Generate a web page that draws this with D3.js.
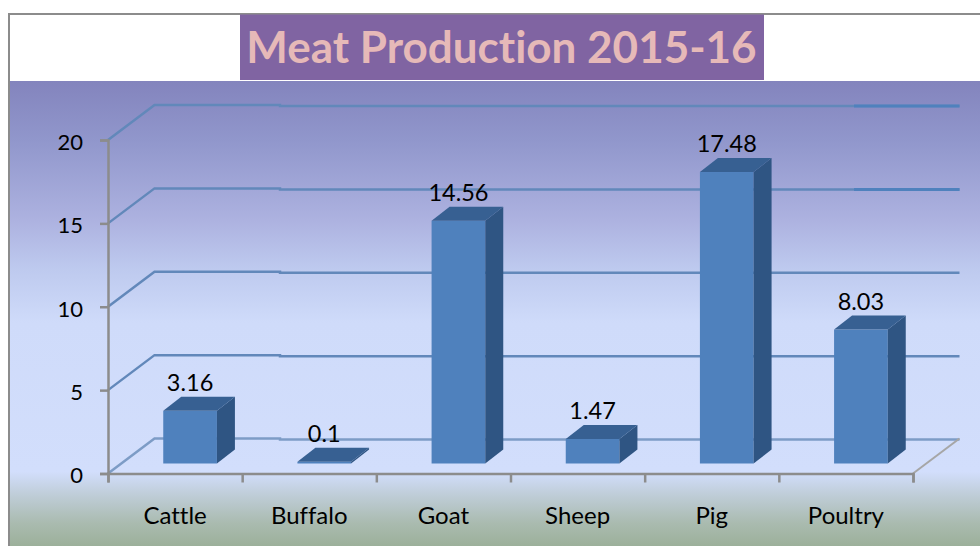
<!DOCTYPE html>
<html lang="en">
<head>
    <meta charset="UTF-8">
    <title>Meat Production 2015-16</title>
    <style>
        html, body { margin: 0; padding: 0; background: #fff; overflow: hidden; }
        svg { display: block; }
        text { font-family: Lato, "Open Sans", sans-serif; fill: #000; font-variant-ligatures: none; }
    </style>
</head>
<body>
    <svg id="SVG"></svg>
    <script src="https://d3js.org/d3.v7.min.js"></script>
    <script>
        // chart data
        var categories = ["Cattle", "Buffalo", "Goat", "Sheep", "Pig", "Poultry"];
        var values = [3.16, 0.1, 14.56, 1.47, 17.48, 8.03];
        var labels = ["3.16", "0.1", "14.56", "1.47", "17.48", "8.03"];
        var yTicks = [0, 5, 10, 15, 20];
        var title = "Meat Production 2015-16";

        var width = 980;
        var height = 546;

        // plot box and the fake 3d offsets
        var x0 = 108, x1 = 913, y0 = 473.5, y1 = 140;
        var wallDx = 46.5, wallDy = -35;
        var barDx = 18, barDy = -14;      // depth of a bar
        var shiftDx = 15, shiftDy = -10;  // bars sit inside the floor

        var svg = d3.select("#SVG").attr("width", width).attr("height", height);

        var scaleX = d3.scaleBand().domain(categories).range([x0, x1]).paddingInner(0).paddingOuter(0);
        var scaleY = d3.scaleLinear().domain([0, 20]).range([y0, y1]);
        var tickX = d3.scaleLinear().domain([0, categories.length]).range([x0, x1]);

        // background gradient
        var defs = svg.append("defs");
        var grad = defs.append("linearGradient").attr("id", "bg")
            .attr("x1", 0).attr("y1", 0).attr("x2", 0).attr("y2", 1);
        [[0, "#8384bd"], [0.13, "#9197cc"], [0.3, "#adb2e0"], [0.4, "#bdc9ee"], [0.52, "#cfdbfa"],
         [0.84, "#d2defc"], [0.89, "#bfcdd8"], [0.95, "#aabbb0"], [1, "#9cb09a"]].forEach(function (s) {
            grad.append("stop").attr("offset", s[0]).attr("stop-color", s[1]);
        });

        svg.append("rect").attr("x", 8).attr("y", 13).attr("width", 972).attr("height", 533).attr("fill", "#8c8c8c");
        svg.append("rect").attr("x", 10).attr("y", 15).attr("width", 970).attr("height", 531).attr("fill", "#fff");
        svg.append("rect").attr("x", 10).attr("y", 81).attr("width", 970).attr("height", 465).attr("fill", "url(#bg)");

        // title
        svg.append("rect").attr("x", 240).attr("y", 14.5).attr("width", 524).attr("height", 65.5).attr("fill", "#8064a2");
        svg.append("text").attr("x", 501.5).attr("y", 63).attr("text-anchor", "middle")
            .style("font-size", "44px").style("font-weight", 700).style("fill", "#e6b9b8").text(title);

        // gridlines, wall and back
        var gridG = svg.append("g");
        yTicks.forEach(function (t) {
            var y = scaleY(t);
            gridG.append("path")
                .attr("d", `M${x0},${y} L${x0 + wallDx},${y + wallDy} H280 V${y + wallDy + 1} H${x1 + wallDx}`)
                .attr("fill", "none").attr("stroke", t == 0 ? "#7d9cc6" : "#6288ba").attr("stroke-width", 2.5);
            if (t >= 15) {
                gridG.append("line").attr("x1", 854).attr("x2", x1 + wallDx)
                    .attr("y1", y + wallDy + 1).attr("y2", y + wallDy + 1)
                    .attr("stroke", "#4f81bd").attr("stroke-width", 3);
            }
        });

        // floor edge on the right
        svg.append("line").attr("x1", x1).attr("y1", y0).attr("x2", x1 + wallDx).attr("y2", y0 + wallDy)
            .attr("stroke", "#a6a6a6").attr("stroke-width", 2);

        // axes
        var axisY = svg.append("g").attr("transform", `translate(${x0},0)`)
            .call(d3.axisLeft(scaleY).tickValues(yTicks).tickSize(8).tickPadding(17));
        var axisTicks = svg.append("g").attr("transform", `translate(0,${y0})`)
            .call(d3.axisBottom(tickX).ticks(categories.length).tickSize(9).tickFormat(""));
        var axisX = svg.append("g").attr("transform", `translate(0,${y0})`)
            .call(d3.axisBottom(scaleX).tickSize(0).tickPadding(33));
        axisX.select(".domain").remove();

        svg.selectAll(".domain").attr("stroke", "#8c8c8c").attr("stroke-width", 2.5);
        svg.selectAll(".tick line").attr("stroke", "#8c8c8c").attr("stroke-width", 2.5);
        axisY.selectAll("text").style("font-size", "22px").attr("dy", "0.42em");
        axisX.selectAll("text").style("font-size", "24px");
        axisY.attr("font-family", null);
        axisX.attr("font-family", null);

        // bars: front, side and top faces
        var barW = scaleX.bandwidth() * 0.4;
        function barLeft(d) { return scaleX(d) + scaleX.bandwidth() / 2 - barW / 2 + shiftDx; }

        var bars = svg.append("g").selectAll("g").data(categories).enter().append("g");

        bars.append("rect")
            .attr("x", d => barLeft(d))
            .attr("y", (d, i) => scaleY(values[i]) + shiftDy)
            .attr("width", barW)
            .attr("height", (d, i) => y0 - scaleY(values[i]))
            .attr("fill", "#4f81bd");

        bars.append("path")
            .attr("d", function (d, i) {
                var x = barLeft(d) + barW, top = scaleY(values[i]) + shiftDy, bot = y0 + shiftDy;
                return `M${x},${top} l${barDx},${barDy} V${bot + barDy} L${x},${bot} Z`;
            })
            .attr("fill", "#2f5583");

        bars.append("path")
            .attr("d", function (d, i) {
                var x = barLeft(d), top = scaleY(values[i]) + shiftDy;
                return `M${x},${top} l${barDx},${barDy} h${barW} l${-barDx},${-barDy} Z`;
            })
            .attr("fill", "#376092");

        // value labels above the bars
        bars.append("text")
            .attr("x", d => barLeft(d) + barW / 2)
            .attr("y", (d, i) => scaleY(values[i]) + shiftDy + barDy - 6)
            .attr("text-anchor", "middle")
            .style("font-size", "23.5px")
            .text((d, i) => labels[i]);
    </script>
</body>
</html>
